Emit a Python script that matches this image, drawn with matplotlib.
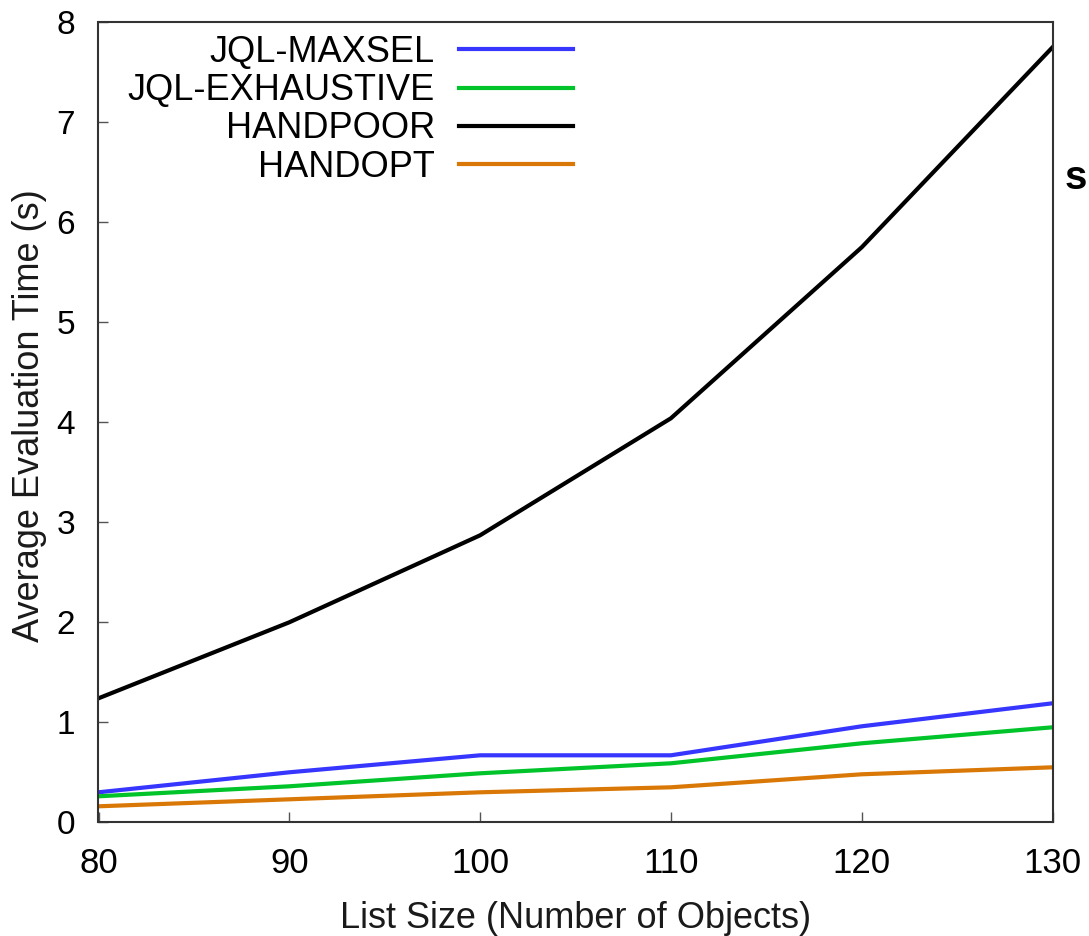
import matplotlib
matplotlib.use("Agg")
import matplotlib.pyplot as plt

plt.rcParams['font.family'] = ['Liberation Sans', 'DejaVu Sans']

list_sizes = [80, 90, 100, 110, 120, 130]
jql_maxsel = [0.30, 0.50, 0.67, 0.67, 0.96, 1.19]
jql_exhaustive = [0.26, 0.36, 0.49, 0.59, 0.79, 0.95]
handpoor = [1.24, 2.00, 2.87, 4.04, 5.75, 7.75]
handopt = [0.16, 0.23, 0.30, 0.35, 0.48, 0.55]

series_names = ["JQL-MAXSEL", "JQL-EXHAUSTIVE", "HANDPOOR", "HANDOPT"]
series_values = [jql_maxsel, jql_exhaustive, handpoor, handopt]
series_colors = ["#3636ff", "#00c42a", "#000000", "#d97806"]

x_ticks = [80, 90, 100, 110, 120, 130]
y_ticks = [0, 1, 2, 3, 4, 5, 6, 7, 8]

W, H = 1089, 936
fig = plt.figure(figsize=(W / 100, H / 100), dpi=100)
ax_l, ax_r, ax_t, ax_b = 98.5, 1052.5, 22.3, 822.3
ax = fig.add_axes([ax_l / W, 1 - ax_b / H, (ax_r - ax_l) / W, (ax_b - ax_t) / H])

for name, vals, col in zip(series_names, series_values, series_colors):
    ax.plot(list_sizes, vals, color=col, lw=3.0, label=name, solid_joinstyle='round')

ax.set_xlim(80, 130)
ax.set_ylim(0, 8)
ax.set_xticks(x_ticks)
ax.set_yticks(y_ticks)
ax.tick_params(axis='both', direction='in', length=7.5, width=1.0, color='#555555',
               top=False, right=False)
ax.tick_params(axis='x', pad=18, labelsize=25)
ax.tick_params(axis='y', pad=17, labelsize=24)
for sp in ax.spines.values():
    sp.set_linewidth(1.5)
    sp.set_color('#333333')

ax.set_xlabel("List Size (Number of Objects)", fontsize=26, color='#1a1a1a')
ax.xaxis.set_label_coords(0.5, (ax_b - 928) / (ax_b - ax_t))
ax.xaxis.label.set_va('baseline')
ax.set_ylabel("Average Evaluation Time (s)", fontsize=26, color='#1a1a1a')
ax.yaxis.set_label_coords((39 - ax_l) / (ax_r - ax_l), (ax_b - 416) / (ax_b - ax_t))
ax.yaxis.label.set_va('baseline')

fs = 26
fs_px = fs * 100 / 72
leg = ax.legend(loc='upper right', bbox_to_anchor=(573 / W, 1 - 35 / H),
                bbox_transform=fig.transFigure, frameon=False,
                markerfirst=False, fontsize=fs, handlelength=114 / fs_px,
                handletextpad=24 / fs_px, labelspacing=0.09,
                borderaxespad=0.0, borderpad=0.0)

fig.text(1065 / W, 1 - 189 / H, "s", fontsize=29, fontweight='bold',
         family=['Liberation Sans', 'DejaVu Sans'], ha='left', va='baseline')

fig.savefig("out.png", dpi=100)
